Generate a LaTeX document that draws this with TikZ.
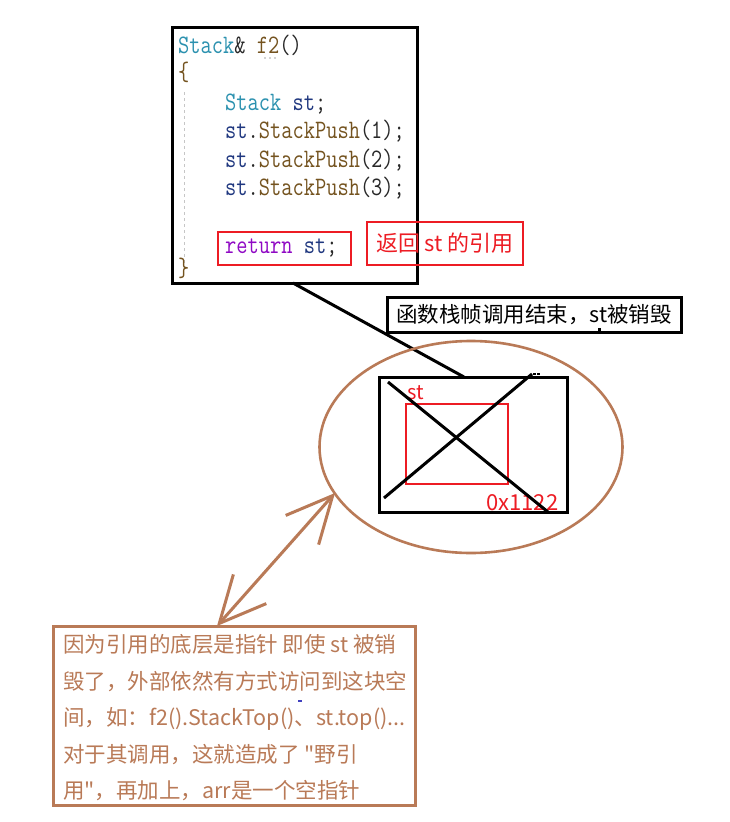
\documentclass[tikz,border=0pt]{standalone}
\usepackage{fontspec}
\usetikzlibrary{shapes.geometric,arrows.meta}
\newfontfamily\cjk{Noto Sans CJK SC}
\newfontfamily\codefont{Latin Modern Mono}[FakeStretch=0.82]
\definecolor{pbrown}{RGB}{185,122,87}
\definecolor{pred}{RGB}{237,28,36}
\definecolor{cteal}{RGB}{43,145,175}
\definecolor{cnavy}{RGB}{31,55,127}
\definecolor{cfunc}{RGB}{116,83,31}
\definecolor{cpurple}{RGB}{143,8,196}
\definecolor{cdark}{RGB}{40,40,40}
\tikzset{
  codeline/.style={anchor=base west, inner sep=0pt, font=\codefont\fontsize{26.6}{30}\selectfont, text=cdark},
  box/.style={rectangle, inner sep=0pt},
  blackbox/.style={box, draw=black, line width=3pt},
  redbox/.style={box, draw=pred, line width=2.6pt},
  brownbox/.style={box, draw=pbrown, line width=3pt},
  cjklabel/.style={inner sep=0pt, font=\cjk\fontsize{21.5}{26}\selectfont},
  noteline/.style={anchor=base west, inner sep=0pt, text=pbrown, font=\cjk\fontsize{21.5}{26}\selectfont},
}
\begin{document}
\begin{tikzpicture}[x=1pt,y=-1pt]
\useasboundingbox (0,0) rectangle (730,822);
\fill[white] (0,0) rectangle (730,822);

% code box
\node[blackbox, minimum width=245, minimum height=256] (codebox) at (294.5,155) {};
\draw[gray!45, dashed, line width=1pt] (184,92) -- (184,268);
\node[codeline] (l0) at (178,53) {\textcolor{cteal}{Stack}\& \textcolor{cfunc}{f2}()};
\foreach \xx [count=\i] in {265,270,275} \fill[gray!70] (\xx,58) circle (0.9);
\node[codeline] (l1) at (178,80) {\textcolor{cfunc}{\{}};
\node[codeline] (l2) at (225,110) {\textcolor{cteal}{Stack} \textcolor{cnavy}{st};};
\node[codeline] (l3) at (225,138) {\textcolor{cnavy}{st}.\textcolor{cfunc}{StackPush}(1);};
\node[codeline] (l4) at (225,167) {\textcolor{cnavy}{st}.\textcolor{cfunc}{StackPush}(2);};
\node[codeline] (l5) at (225,195) {\textcolor{cnavy}{st}.\textcolor{cfunc}{StackPush}(3);};
\node[codeline] (l6) at (225,253) {\textcolor{cpurple}{return} \textcolor{cnavy}{st};};
\node[codeline] (l7) at (178,276) {\textcolor{cfunc}{\}}};
\node[redbox, minimum width=133, minimum height=33] (retbox) at (284.5,248.5) {};

% label: return reference
\node[redbox, minimum width=156, minimum height=43, cjklabel, text=pred, font=\cjk\fontsize{22}{26}\selectfont] (retlbl) at (445,243.5) {返回 st 的引用};

% label: destroyed
\node[blackbox, minimum width=294, minimum height=35, cjklabel] (dlbl) at (534,314.5) {函数栈帧调用结束，st被销毁};
\fill[black] (597.5,327.5) rectangle (600.5,330.5);

% connector from code box to memory block
\coordinate (c1) at (293,283);
\coordinate (c2) at (464,377);
\draw[line width=3pt] (c1) -- (c2);

% ellipse
\node[ellipse, draw=pbrown, line width=2.6pt, inner sep=0pt, minimum width=303, minimum height=212] (heap) at (471,447) {};

% memory block
\node[blackbox, minimum width=188, minimum height=135] (mem) at (473,444.5) {};
\node[redbox, minimum width=102, minimum height=80] (stbox) at (457,444) {};
\node[anchor=base west, inner sep=0pt, text=pred, font=\cjk\fontsize{20}{24}\selectfont] (stlbl) at (407,399) {st};
\node[anchor=base west, inner sep=0pt, text=pred, font=\cjk\fontsize{22}{26}\selectfont] (addr) at (486,510) {0x1122};
\coordinate (x1a) at (388,382);
\coordinate (x1b) at (548,512);
\coordinate (x2a) at (384,498);
\coordinate (x2b) at (532,374);
\draw[line width=3pt] (x1a) -- (x1b);
\draw[line width=3pt] (x2a) -- (x2b);
\fill[black] (533,372.5) rectangle (535.5,375);
\fill[black] (537,372.5) rectangle (539.5,375);

% double arrow
\coordinate (aT) at (335,493);
\coordinate (aB) at (217,626);
\draw[pbrown, line width=3pt, {Straight Barb[length=46pt,width=44pt]}-{Straight Barb[length=46pt,width=44pt]}] (aB) -- (aT);

% note box
\node[brownbox, minimum width=362, minimum height=179] (note) at (234,715.5) {};
\node[noteline] (n1) at (63,652) {因为引用的底层是指针 即使 st 被销};
\node[noteline] (n2) at (63,689) {毁了，外部依然有方式访问到这块空};
\node[noteline] (n3) at (63,725) {间，如：f2().StackTop()、st.top()...};
\node[noteline] (n4) at (63,762) {对于其调用，这就造成了 "野引};
\node[noteline] (n5) at (63,798) {用"，再加上，arr是一个空指针};
\fill[blue!50!gray] (298,700) rectangle (302,702);
\end{tikzpicture}
\end{document}
